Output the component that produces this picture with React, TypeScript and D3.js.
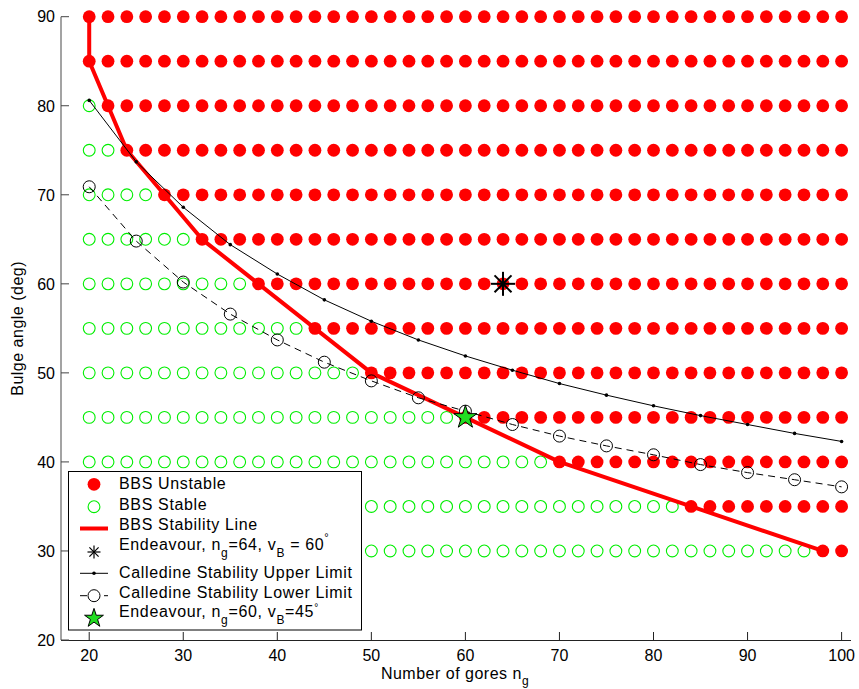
import React from 'react';
import * as d3 from 'd3';

// grid of simulated cases
const gores = [20, 22, 24, 26, 28, 30, 32, 34, 36, 38, 40, 42, 44, 46, 48, 50, 52, 54, 56, 58, 60,
  62, 64, 66, 68, 70, 72, 74, 76, 78, 80, 82, 84, 86, 88, 90, 92, 94, 96, 98, 100];
const angles = [90, 85, 80, 75, 70, 65, 60, 55, 50, 45, 40, 35, 30];
// first gore count that is unstable for each bulge angle
const firstUnstable = [20, 20, 22, 24, 28, 32, 38, 44, 50, 60, 70, 84, 98];

// Calledine limits
const calledineGores = [20, 25, 30, 35, 40, 45, 50, 55, 60, 65, 70, 75, 80, 85, 90, 95, 100];
const upperLimit = [80.6, 73.7, 68.6, 64.4, 61.1, 58.2, 55.8, 53.7, 51.9, 50.3, 48.8, 47.5, 46.3, 45.2, 44.2, 43.2, 42.3];
const lowerLimit = [70.9, 64.8, 60.2, 56.6, 53.7, 51.2, 49.1, 47.2, 45.7, 44.2, 42.9, 41.8, 40.8, 39.7, 38.8, 38.0, 37.2];

const endeavourA = [64, 60];
const endeavourB = [60, 45];

const xTicks = [20, 30, 40, 50, 60, 70, 80, 90, 100];
const yTicks = [20, 30, 40, 50, 60, 70, 80, 90];

const W = 859;
const H = 689;
const FONT = '"Liberation Sans", Arial, Helvetica, sans-serif';
const RED = '#ff0000';
const GREEN = '#00ee00';

const x = d3.scaleLinear().domain([17, 101]).range([61, 851]);
const y = d3.scaleLinear().domain([20, 90]).range([640, 16.7]);

const Asterisk = ({ cx, cy, r, sw }: { cx: number; cy: number; r: number; sw: number }) => {
  const d = r * Math.SQRT1_2;
  return (
    <g stroke="#000" strokeWidth={sw}>
      <line x1={cx - r} y1={cy} x2={cx + r} y2={cy} />
      <line x1={cx} y1={cy - r} x2={cx} y2={cy + r} />
      <line x1={cx - d} y1={cy - d} x2={cx + d} y2={cy + d} />
      <line x1={cx - d} y1={cy + d} x2={cx + d} y2={cy - d} />
    </g>
  );
};

const star = (size: number) => d3.symbol(d3.symbolStar, size)() as string;

export default function App() {
  const stablePts: [number, number][] = [];
  const unstablePts: [number, number][] = [];
  angles.forEach((a, i) => {
    gores.forEach((g) => {
      if (g >= firstUnstable[i]) unstablePts.push([g, a]);
      else stablePts.push([g, a]);
    });
  });

  const line = d3.line<[number, number]>().x((d) => x(d[0])).y((d) => y(d[1]));
  const stabilityLine = line(angles.map((a, i) => [firstUnstable[i], a]));
  const upperPath = line(calledineGores.map((g, i) => [g, upperLimit[i]]));
  const lowerPath = line(calledineGores.map((g, i) => [g, lowerLimit[i]]));

  const lx = 94;
  const tx = 119;
  const legendText = { fontSize: 16, letterSpacing: 0.65 };

  return (
    <svg width={W} height={H} style={{ position: 'absolute', left: 0, top: 0, background: '#fff' }} fontFamily={FONT}>
      {/* unstable */}
      {unstablePts.map((p, i) => (
        <circle key={'u' + i} cx={x(p[0])} cy={y(p[1])} r={6.4} fill={RED} />
      ))}
      {/* stable */}
      {stablePts.map((p, i) => (
        <circle key={'s' + i} cx={x(p[0])} cy={y(p[1])} r={5.9} fill="none" stroke={GREEN} strokeWidth={1.1} />
      ))}
      <path d={stabilityLine || ''} fill="none" stroke={RED} strokeWidth={4} strokeLinejoin="round" />
      <Asterisk cx={x(endeavourA[0])} cy={y(endeavourA[1])} r={12} sw={2} />
      <path d={upperPath || ''} fill="none" stroke="#000" strokeWidth={1} />
      {calledineGores.map((g, i) => (
        <circle key={'up' + i} cx={x(g)} cy={y(upperLimit[i])} r={1.8} fill="#000" />
      ))}
      <path d={lowerPath || ''} fill="none" stroke="#000" strokeWidth={1} strokeDasharray="7,5" />
      {calledineGores.map((g, i) => (
        <circle key={'lo' + i} cx={x(g)} cy={y(lowerLimit[i])} r={6} fill="none" stroke="#000" strokeWidth={1} />
      ))}
      <path d={star(165)} transform={`translate(${x(endeavourB[0])},${y(endeavourB[1])})`} fill="#22dd22" stroke="#000" strokeWidth={1} />

      {/* axes */}
      <line x1={61} y1={y(90)} x2={61} y2={640} stroke="#666" strokeWidth={1.2} />
      <line x1={61} y1={640.5} x2={851} y2={640.5} stroke="#222" strokeWidth={1} />
      {xTicks.map((t) => (
        <g key={'xt' + t}>
          <line x1={x(t)} x2={x(t)} y1={640} y2={632} stroke="#222" />
          <text x={x(t)} y={661} textAnchor="middle" fontSize={16}>{t}</text>
        </g>
      ))}
      {yTicks.map((t) => (
        <g key={'yt' + t}>
          <line x1={61} x2={69} y1={y(t)} y2={y(t)} stroke="#444" />
          <text x={55} y={y(t)} dy="0.36em" textAnchor="end" fontSize={16}>{t}</text>
        </g>
      ))}
      <text x={455} y={679} textAnchor="middle" fontSize={16} letterSpacing={0.5}>
        Number of gores n<tspan fontSize={12} dy={6}>g</tspan>
      </text>
      <text transform={`translate(23,${(y(90) + 640) / 2}) rotate(-90)`} textAnchor="middle" fontSize={16} letterSpacing={0.5}>
        Bulge angle (deg)
      </text>

      {/* legend */}
      <rect x={68.5} y={471.5} width={293} height={158.5} fill="#fff" stroke="#000" strokeWidth={1} />
      <circle cx={lx} cy={484.3} r={6.4} fill={RED} />
      <text x={tx} y={489} {...legendText}>BBS Unstable</text>
      <circle cx={lx} cy={506.7} r={5.9} fill="none" stroke={GREEN} strokeWidth={1.1} />
      <text x={tx} y={510} {...legendText}>BBS Stable</text>
      <line x1={80} x2={108} y1={528.5} y2={528.5} stroke={RED} strokeWidth={4} />
      <text x={tx} y={530} {...legendText}>BBS Stability Line</text>
      <Asterisk cx={lx} cy={552} r={6.5} sw={1.2} />
      <text x={tx} y={550} {...legendText}>
        Endeavour, n<tspan fontSize={12} dy={7}>g</tspan>
        <tspan dy={-7}>=64, v</tspan>
        <tspan fontSize={12} dy={7}>B</tspan>
        <tspan dy={-7}> = 60</tspan>
        <tspan fontSize={11} dy={-9}>°</tspan>
      </text>
      <line x1={80} x2={108} y1={573.3} y2={573.3} stroke="#000" strokeWidth={1} />
      <circle cx={lx} cy={573.3} r={1.8} fill="#000" />
      <text x={tx} y={578} {...legendText}>Calledine Stability Upper Limit</text>
      <line x1={80} x2={108} y1={595.7} y2={595.7} stroke="#000" strokeWidth={1} strokeDasharray="7,5" />
      <circle cx={lx} cy={595.7} r={6} fill="#fff" stroke="#000" strokeWidth={1} />
      <text x={tx} y={598} {...legendText}>Calledine Stability Lower Limit</text>
      <path d={star(110)} transform={`translate(${lx},618.3)`} fill="#22dd22" stroke="#000" strokeWidth={1} />
      <text x={tx} y={617} {...legendText}>
        Endeavour, n<tspan fontSize={12} dy={7}>g</tspan>
        <tspan dy={-7}>=60, v</tspan>
        <tspan fontSize={12} dy={7}>B</tspan>
        <tspan dy={-7}>=45</tspan>
        <tspan fontSize={10} dy={-6}>°</tspan>
      </text>
    </svg>
  );
}
